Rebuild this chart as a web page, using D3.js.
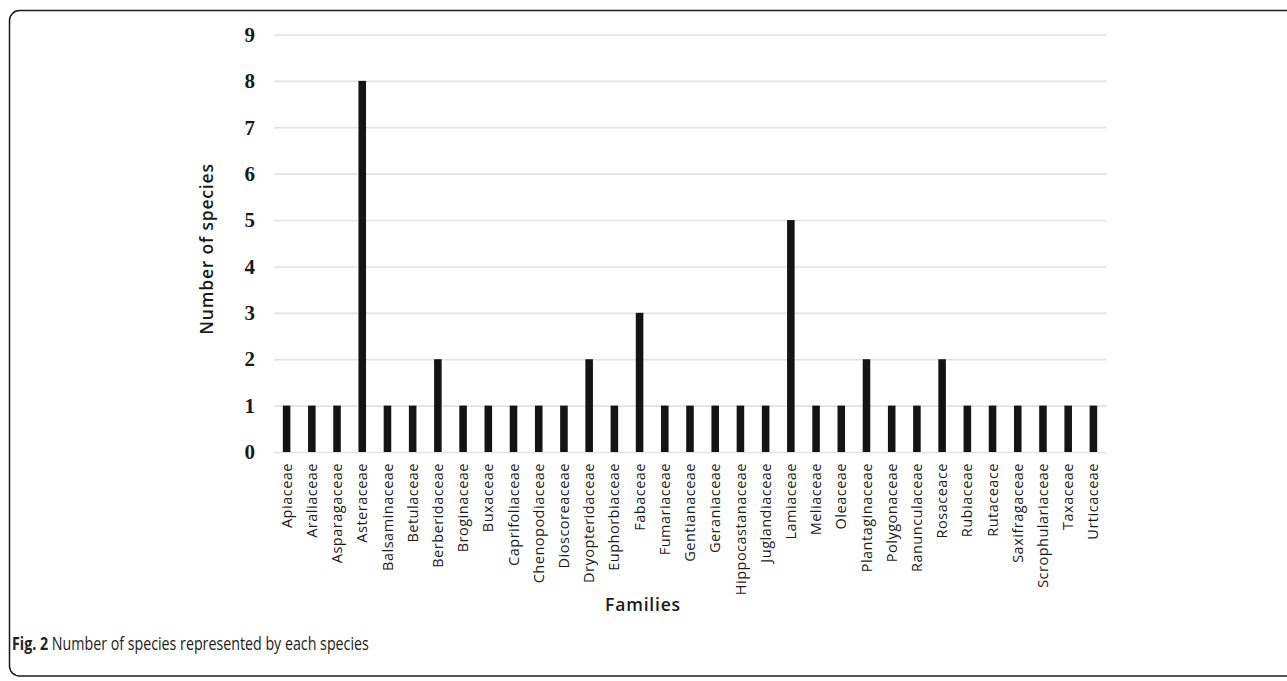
<!DOCTYPE html>
<html>
<head>
<meta charset="utf-8">
<script src="https://cdn.jsdelivr.net/npm/d3@7"></script>
<style>
  html, body { margin: 0; padding: 0; background: #fff; }
  svg { display: block; }
</style>
</head>
<body>
<svg id="chart" width="1287" height="681"></svg>
<script>
const families = ["Apiaceae","Araliaceae","Asparagaceae","Asteraceae","Balsaminaceae","Betulaceae","Berberidaceae","Broginaceae","Buxaceae","Caprifoliaceae","Chenopodiaceae","Dioscoreaceae","Dryopteridaceae","Euphorbiaceae","Fabaceae","Fumariaceae","Gentianaceae","Geraniaceae","Hippocastanaceae","Juglandiaceae","Lamiaceae","Meliaceae","Oleaceae","Plantaginaceae","Polygonaceae","Ranunculaceae","Rosaceace","Rubiaceae","Rutaceace","Saxifragaceae","Scrophulariaceae","Taxaceae","Urticaceae"];
const speciesCount = [1,1,1,8,1,1,2,1,1,1,1,1,2,1,3,1,1,1,1,1,5,1,1,2,1,1,2,1,1,1,1,1,1];
const yTicks = [0,1,2,3,4,5,6,7,8,9];
const yTitle = "Number of species";
const xTitle = "Families";
const captionBold = "Fig. 2";
const captionText = " Number of species represented by each species";

(function () {
const svg = d3.select("#chart");

// frame
svg.append("rect")
  .attr("x", 9.5).attr("y", 10.5)
  .attr("width", 1300).attr("height", 665.5)
  .attr("rx", 10).attr("ry", 10)
  .attr("fill", "none").attr("stroke", "#1a1a1a").attr("stroke-width", 1.5);

const pLeft = 274, pRight = 1106, pTop = 34.5, pBottom = 452;

const x = d3.scaleBand().domain(families).range([pLeft, pRight]).paddingInner(0.7).paddingOuter(0.35);
const y = d3.scaleLinear().domain([0, 9]).range([pBottom, pTop]);

// gridlines
const grid = svg.append("g").attr("transform", `translate(${pLeft},0)`)
  .call(d3.axisLeft(y).tickValues(yTicks).tickSize(-(pRight - pLeft)).tickFormat(""));
grid.select(".domain").remove();
grid.selectAll(".tick line").attr("stroke", "#e2e2e2").attr("stroke-width", 1.6);

// y tick labels
const yAxis = svg.append("g").attr("transform", `translate(${pLeft},0)`)
  .call(d3.axisLeft(y).tickValues(yTicks).tickSize(0).tickPadding(19).tickFormat(d3.format("d")));
yAxis.select(".domain").remove();
yAxis.selectAll(".tick text")
  .attr("font-family", "'Liberation Serif', 'Times New Roman', serif")
  .attr("font-weight", "bold")
  .attr("font-size", 21)
  .attr("fill", "#1a1a1a");

// bars
svg.append("g").selectAll("rect")
  .data(families)
  .join("rect")
  .attr("x", d => x(d))
  .attr("width", x.bandwidth())
  .attr("y", (d, i) => y(speciesCount[i]))
  .attr("height", (d, i) => y(0) - y(speciesCount[i]))
  .attr("fill", "#141414");

// x labels
const xAxis = svg.append("g").attr("transform", `translate(0,${pBottom})`)
  .call(d3.axisBottom(x).tickSize(0).tickPadding(0));
xAxis.select(".domain").remove();
xAxis.selectAll(".tick text")
  .attr("font-family", "'Open Sans', 'Noto Sans', sans-serif")
  .attr("font-size", 14.5)
  .attr("letter-spacing", 0.5)
  .attr("fill", "#1a1a1a")
  .attr("text-anchor", "end")
  .attr("transform", "translate(0,11) rotate(-90)")
  .attr("x", 0).attr("y", 0).attr("dy", "0.35em");

// y title
svg.append("text")
  .attr("transform", `translate(213,249) rotate(-90)`)
  .attr("text-anchor", "middle")
  .attr("font-family", "'Open Sans', 'Noto Sans', sans-serif")
  .attr("font-weight", 600)
  .attr("font-size", 17.5)
  .attr("letter-spacing", 0.8)
  .attr("fill", "#1a1a1a")
  .text(yTitle);

// x title
svg.append("text")
  .attr("x", 643).attr("y", 611)
  .attr("text-anchor", "middle")
  .attr("font-family", "'Open Sans', 'Noto Sans', sans-serif")
  .attr("font-weight", 600)
  .attr("font-size", 17.5)
  .attr("letter-spacing", 0.8)
  .attr("fill", "#1a1a1a")
  .text(xTitle);

// caption
const cap = svg.append("text")
  .attr("transform", "translate(12,650) scale(0.77,1)")
  .attr("font-family", "'Open Sans', 'Noto Sans', sans-serif")
  .attr("font-size", 18.5)
  .attr("fill", "#222");
cap.append("tspan").attr("font-weight", "bold").text(captionBold);
cap.append("tspan").text(captionText);
})();
</script>
</body>
</html>
